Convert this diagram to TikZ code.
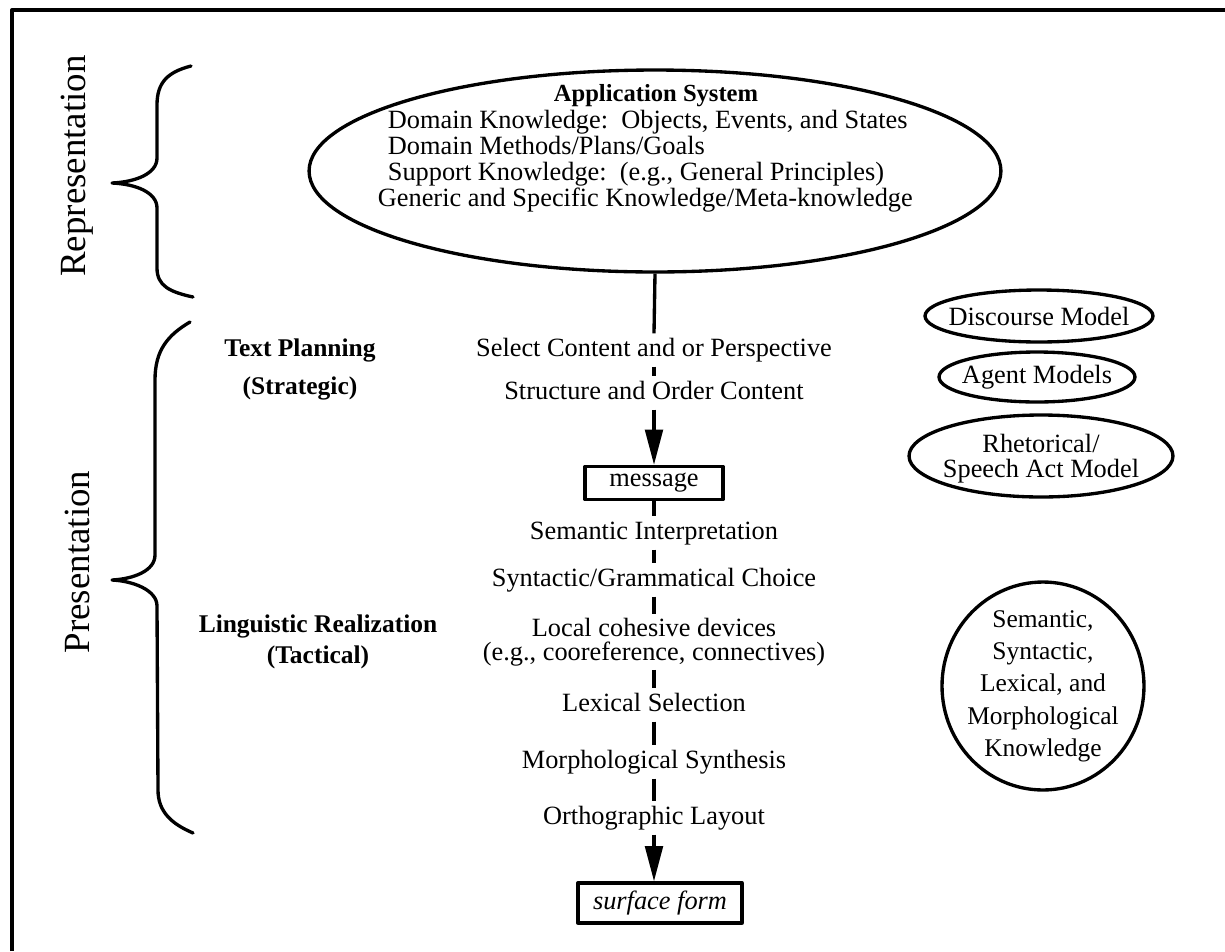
\documentclass[tikz,border=0pt]{standalone}
\usepackage{fontspec}
\setmainfont{Liberation Serif}
\usetikzlibrary{shapes.geometric,arrows.meta}
\tikzset{
  base/.style={draw=black, line width=1.9pt, line cap=round, line join=round},
  link/.style={draw=black, line width=1.9pt},
  arr/.style={link, -{Triangle[length=20pt,width=10pt]}},
  lab/.style={font=\fontsize{15}{14.2}\selectfont, inner sep=2pt, text height=11pt, text depth=3.5pt},
  labml/.style={font=\fontsize{15}{13.6}\selectfont, inner sep=2pt, align=center},
  body/.style={font=\fontsize{15}{14.8}\selectfont, inner sep=2pt, align=left},
  head/.style={font=\bfseries\fontsize{14.5}{17.6}\selectfont, align=center},
  side/.style={font=\fontsize{21}{24}\selectfont, rotate=90},
  model/.style={base, ellipse, inner sep=0pt},
  mtext/.style={font=\fontsize{15}{14.2}\selectfont, align=center, inner sep=0pt},
  boxed/.style={base, rectangle, line cap=butt, font=\fontsize{15}{16}\selectfont, inner sep=0pt},
}
\begin{document}
\begin{tikzpicture}[x=0.02cm, y=-0.02cm]
  \useasboundingbox (0,0) rectangle (1225,951);
  % frame
  \draw[base, line cap=butt] (12,951) -- (12,10) -- (1225,10);

  % side labels and braces
  \node[side] (repr) at (77,166) {Representation};
  \node[side] (pres) at (77,562) {Presentation};
  \draw[base] (191,66) .. controls (168,72) and (157,82) .. (157,105) -- (157,158)
    .. controls (157,174) and (135,182) .. (112,183)
    .. controls (135,184) and (157,192) .. (157,208) -- (157,268)
    .. controls (157,286) and (170,292) .. (193,297);
  \draw[base] (190,322) .. controls (168,335) and (155,350) .. (155,380) -- (155,555)
    .. controls (155,571) and (133,579) .. (112,580)
    .. controls (133,581) and (157,590) .. (157,606) -- (158,790)
    .. controls (158,812) and (172,824) .. (193,833);

  % application system
  \node[model, minimum width=13.84cm, minimum height=4.04cm] (app) at (655,171) {};
  \node[head, font=\bfseries\fontsize{14}{16}\selectfont] (apptitle) at (656,96) {Application System};
  \node[body, anchor=west] (appbody) at (384,161) {Domain Knowledge:\ \ Objects, Events, and States\\
    Domain Methods/Plans/Goals\\
    Support Knowledge:\ \ (e.g., General Principles)\\
    \hspace*{-0.2cm}Generic and Specific Knowledge/Meta-knowledge};

  % stage labels
  \node[head] (plan) at (300,369) {Text Planning\\[4pt](Strategic)};
  \node[head] (real) at (318,642) {Linguistic Realization\\(Tactical)};

  % central column
  \node[lab] (sel) at (654,350) {Select Content and or Perspective};
  \node[lab] (struc) at (654,393) {Structure and Order Content};
  \node[boxed, minimum width=2.76cm, minimum height=0.66cm] (msg) at (654,483) {message};
  \node[lab] (sem) at (654,533) {Semantic Interpretation};
  \node[lab] (syn) at (654,580) {Syntactic/Grammatical Choice};
  \node[labml] (loc) at (654,642) {Local cohesive devices\\(e.g., cooreference, connectives)};
  \node[lab] (lex) at (654,705) {Lexical Selection};
  \node[lab] (mor) at (654,762) {Morphological Synthesis};
  \node[lab] (ort) at (654,818) {Orthographic Layout};
  \node[boxed, minimum width=3.28cm, minimum height=0.8cm, font=\itshape\fontsize{15}{16}\selectfont] (surf) at (660,903) {surface form};

  \draw[link] (app.south) -- (sel.north);
  \draw[link] (sel.south) -- (struc.north);
  \draw[arr] (struc.south) -- (msg.north);
  \draw[link] (msg.south) -- (sem.north);
  \draw[link] (sem.south) -- (syn.north);
  \draw[link] (syn.south) -- (loc.north);
  \draw[link] (loc.south) -- (lex.north);
  \draw[link] (lex.south) -- (mor.north);
  \draw[link] (mor.south) -- (ort.north);
  \draw[arr] (ort.south) -- (ort.south |- surf.north);

  % knowledge sources
  \node[model, minimum width=4.56cm, minimum height=1.04cm, label={[mtext]center:Discourse Model}] (disc) at (1039,316) {};
  \node[model, minimum width=3.92cm, minimum height=1.0cm, label={[mtext]center:Agent Models}] (agent) at (1037,377) {};
  \node[model, minimum width=5.28cm, minimum height=1.64cm, label={[mtext, yshift=-0.06cm]center:Rhetorical/\\Speech Act Model}] (rhet) at (1041,456) {};
  \node[model, minimum width=4.04cm, minimum height=4.16cm,
    label={[mtext, font=\fontsize{14.5}{18.4}\selectfont]center:Semantic,\\Syntactic,\\Lexical, and\\Morphological\\Knowledge}] (know) at (1043,686) {};
\end{tikzpicture}
\end{document}
